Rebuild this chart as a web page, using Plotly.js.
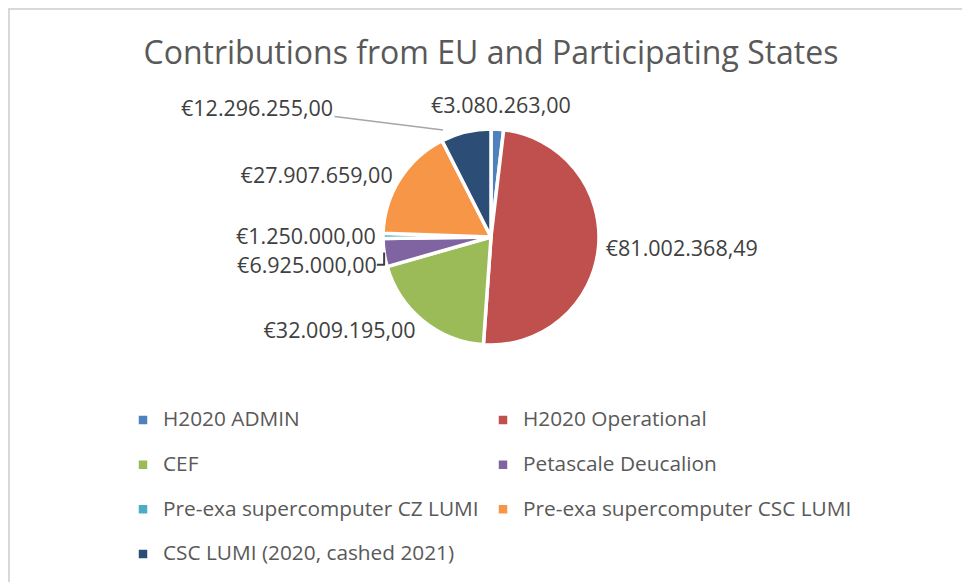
<!DOCTYPE html>
<html>
<head>
<meta charset="utf-8">
<script src="https://cdn.plot.ly/plotly-3.0.1.min.js"></script>
<style>
  html, body { margin: 0; padding: 0; background: #ffffff; }
  #wrap { position: relative; width: 962px; height: 582px; overflow: hidden; }
  #chart { position: absolute; left: 0; top: 0; width: 962px; height: 582px; }
  #frame { position: absolute; left: 8px; top: 8px; width: 980px; height: 600px;
           border-left: 2px solid #d9d9d9; border-top: 2px solid #d9d9d9; pointer-events: none; }
</style>
</head>
<body>
<div id="wrap"><div id="chart"></div><div id="frame"></div></div>
<script>
const categories = [
  "H2020 ADMIN",
  "H2020 Operational",
  "CEF",
  "Petascale Deucalion",
  "Pre-exa supercomputer CZ LUMI",
  "Pre-exa supercomputer CSC LUMI",
  "CSC LUMI (2020, cashed 2021)"
];
const values = [3080263.00, 81002368.49, 32009195.00, 6925000.00, 1250000.00, 27907659.00, 12296255.00];
const valueLabels = [
  "€3.080.263,00",
  "€81.002.368,49",
  "€32.009.195,00",
  "€6.925.000,00",
  "€1.250.000,00",
  "€27.907.659,00",
  "€12.296.255,00"
];
const colors = ["#4F81BD", "#C0504D", "#9BBB59", "#8064A2", "#4BACC6", "#F79646", "#2C4D75"];

const W = 962, H = 582;
const cx = 491, cy = 237, R = 108;
const FONT = '"Open Sans", Lato, sans-serif';

// labels placed by hand in the original (moved off the slice)
const movedLabels = [
  { i: 0, x: 501, y: 104, arrow: false },
  { i: 6, x: 257, y: 107, arrow: true, hx: 443, hy: 130 }
];
const movedIdx = movedLabels.map(m => m.i);

const trace = {
  type: "pie",
  labels: categories.map(c => '<span style="font-size:20.8px">' + c + '</span><br>&nbsp;'),
  values: values,
  text: valueLabels.map((v, i) => movedIdx.includes(i) ? "" : v),
  textinfo: "text",
  textposition: "outside",
  sort: false,
  direction: "clockwise",
  rotation: 0,
  marker: { colors: colors, line: { color: "#ffffff", width: 3.5 } },
  outsidetextfont: { family: FONT, size: 21.5, color: "#404040" },
  domain: { x: [(cx - R) / W, (cx + R) / W], y: [1 - (cy + R) / H, 1 - (cy - R) / H] },
  hoverinfo: "label+percent"
};

const annotations = movedLabels.map(m => {
  const a = {
    text: valueLabels[m.i],
    xref: "paper", yref: "paper",
    font: { family: FONT, size: 21.5, color: "#404040" },
    showarrow: m.arrow
  };
  if (m.arrow) {
    a.x = m.hx / W; a.y = 1 - m.hy / H;
    a.ax = m.x - m.hx; a.ay = m.y - m.hy;
    a.arrowhead = 0; a.arrowwidth = 1.5; a.arrowcolor = "#a6a6a6";
    a.standoff = 0; a.startstandoff = 0;
  } else {
    a.x = m.x / W; a.y = 1 - m.y / H;
    a.xanchor = "center"; a.yanchor = "middle";
  }
  return a;
});

const layout = {
  width: W, height: H,
  margin: { l: 0, r: 0, t: 0, b: 0, autoexpand: false },
  paper_bgcolor: "#ffffff",
  showlegend: true,
  annotations: annotations,
  title: {
    text: "Contributions from EU and Participating States",
    font: { family: FONT, size: 32, color: "#595959" },
    x: 491 / W, xanchor: "center",
    y: 1 - 53 / H, yanchor: "middle", yref: "container"
  },
  legend: {
    orientation: "h",
    x: 138 / W, xanchor: "left",
    y: 1 - 403 / H, yanchor: "top",
    entrywidth: 330, entrywidthmode: "pixels",
    indentation: -15,
    valign: "top",
    font: { family: FONT, size: 16.04, color: "#595959" },
    itemclick: false, itemdoubleclick: false,
    bgcolor: "rgba(0,0,0,0)"
  }
};

Plotly.newPlot("chart", [trace], layout, { displayModeBar: false, staticPlot: true });
</script>
</body>
</html>
